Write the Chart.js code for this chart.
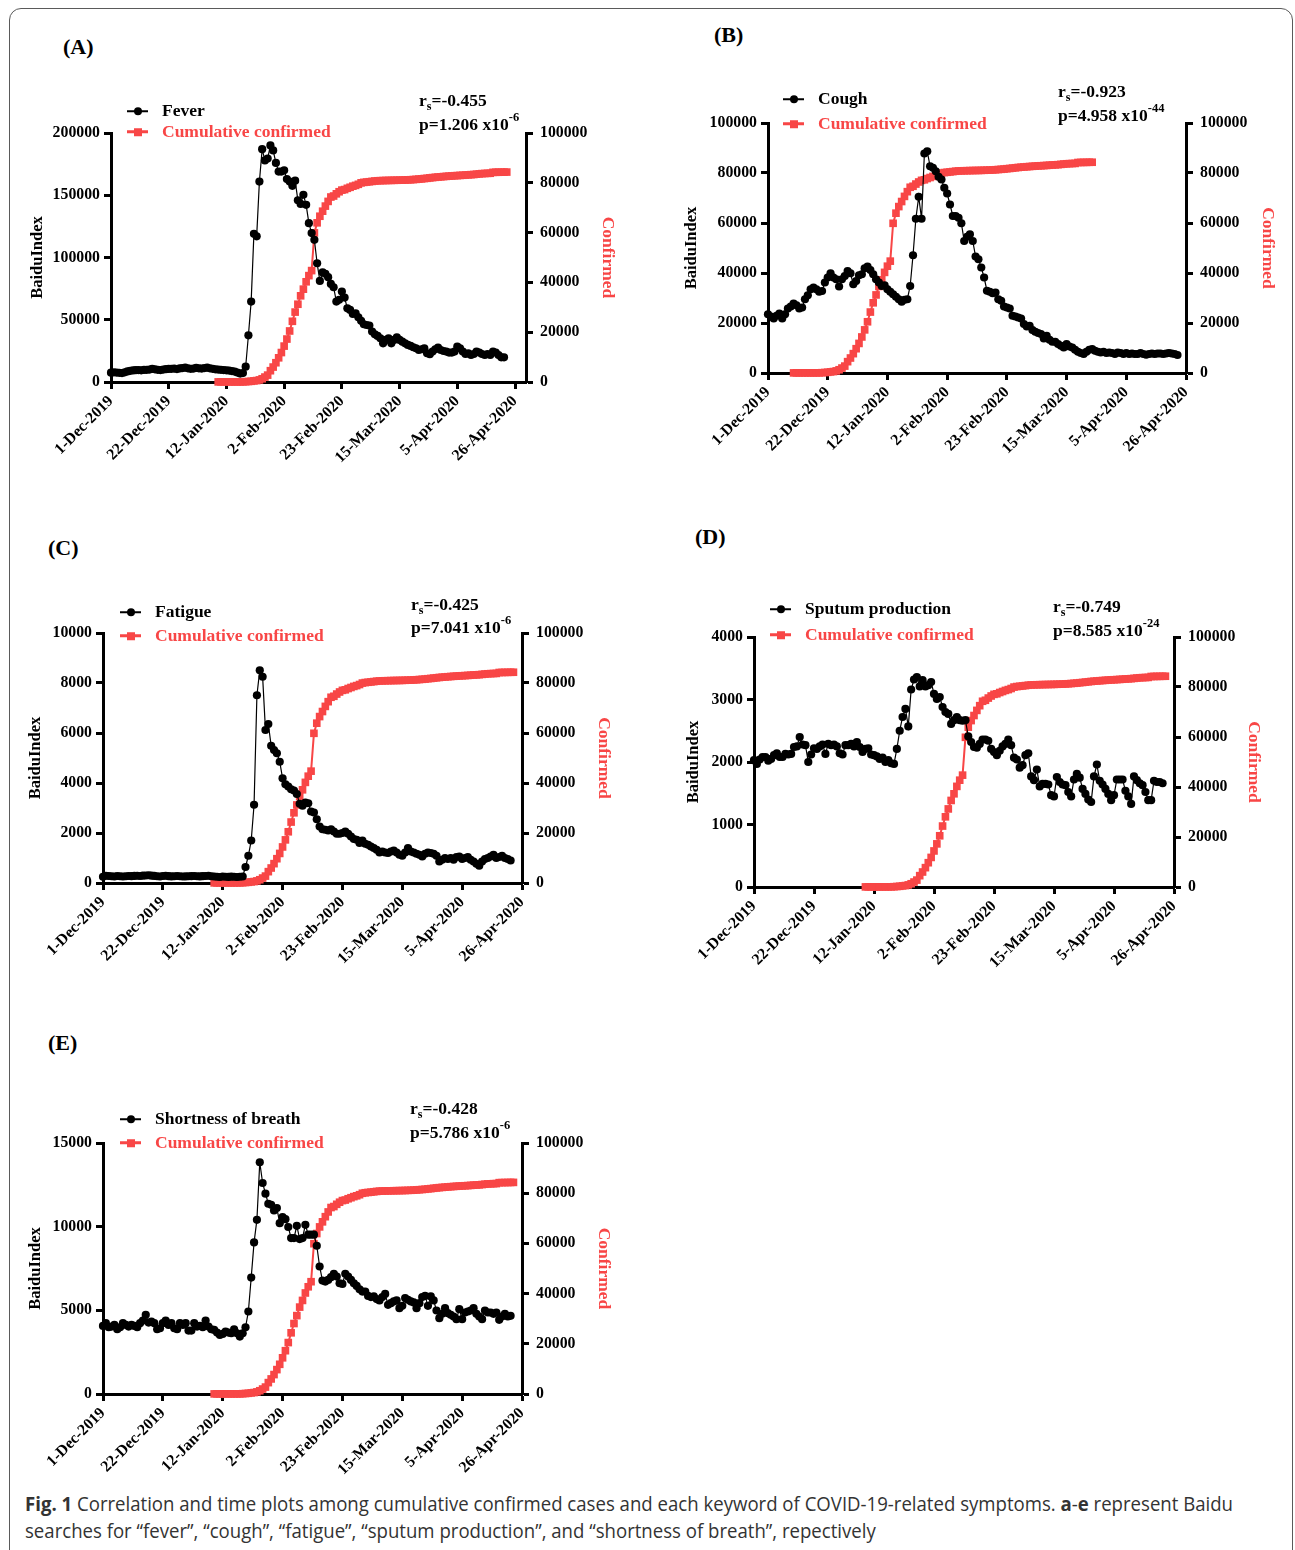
<!DOCTYPE html>
<html>
<head>
<meta charset="utf-8">
<script src="https://cdn.jsdelivr.net/npm/chart.js@4.4.1/dist/chart.umd.min.js"></script>
<style>
  html, body { margin: 0; padding: 0; background: #fff; }
  body { width: 1295px; height: 1550px; position: relative; overflow: hidden; font-family: 'Liberation Serif', 'Times New Roman', serif; }
  .frame { position: absolute; left: 9px; top: 8px; width: 1284px; height: 1570px; border: 1.5px solid #5a5a5a; border-radius: 12px; box-sizing: border-box; }
  canvas { position: absolute; }
  .tag { position: absolute; font-weight: bold; font-size: 22px; line-height: 1; transform: translateY(-50%); }
  .leg { position: absolute; font-weight: bold; font-size: 17.5px; line-height: 1; white-space: nowrap; transform: translateY(-50%); display: flex; align-items: center; }
  .mk { position: relative; width: 21px; height: 10px; margin-right: 14px; }
  .mk .ln { position: absolute; left: 0; right: 0; top: 50%; }
  .mk .pt { position: absolute; left: 50%; top: 50%; transform: translate(-50%, -50%); }
  .stat { position: absolute; font-weight: bold; font-size: 17.5px; line-height: 1; white-space: nowrap; transform: translateY(-50%); }
  .stat sub { font-size: 12px; vertical-align: -4px; line-height: 0; }
  .stat sup { font-size: 12.5px; vertical-align: 9px; line-height: 0; }
  .cap { position: absolute; left: 25px; font-family: 'Open Sans', sans-serif; font-size: 20px; color: #333; white-space: nowrap; transform-origin: 0 50%; line-height: 1; }
</style>
</head>
<body>
<div class="frame"></div>
<div class="cap" id="cap1" style="top:1494px;"><b>Fig. 1</b> Correlation and time plots among cumulative confirmed cases and each keyword of COVID-19-related symptoms. <b>a</b>-<b>e</b> represent Baidu</div>
<div class="cap" id="cap2" style="top:1521px;">searches for “fever”, “cough”, “fatigue”, “sputum production”, and “shortness of breath”, repectively</div>
<script>
// x axis: day index, 0 = 1-Dec-2019
const tickDays = [0, 21, 42, 63, 84, 105, 126, 147];
const tickLabels = ['1-Dec-2019', '22-Dec-2019', '12-Jan-2020', '2-Feb-2020', '23-Feb-2020', '15-Mar-2020', '5-Apr-2020', '26-Apr-2020'];

const panelTags = ['(A)', '(B)', '(C)', '(D)', '(E)'];
const symptomNames = ['Fever', 'Cough', 'Fatigue', 'Sputum production', 'Shortness of breath'];
const rsValues = ['-0.455', '-0.923', '-0.425', '-0.749', '-0.428'];
const pMantissa = ['1.206', '4.958', '7.041', '8.585', '5.786'];
const pExponent = ['-6', '-44', '-6', '-24', '-6'];

// left axis ranges
const leftMax = [200000, 100000, 10000, 4000, 15000];
const leftStep = [50000, 20000, 2000, 1000, 5000];
const rightMax = 100000;
const rightStep = 20000;

// BaiduIndex, daily from 1-Dec-2019
const fever = [7500, 7800, 7600, 7400, 7200, 7800, 8500, 9000, 9300, 9500,
  9600, 9400, 9700, 9800, 10000, 10500, 10200, 9800, 9600, 10000,
  10300, 10500, 10600, 10800, 10400, 10900, 11200, 11500, 11000, 10600,
  10800, 11300, 11000, 10800, 11200, 11500, 11000, 10600, 10200, 10000,
  9800, 9600, 9400, 9200, 8800, 8400, 7600, 6800, 7200,
  12300, 37500, 64600, 119000, 117000, 161000, 187000, 178000, 179500, 190000,
  186000, 176000, 169000, 169000, 170000, 163000, 161000, 157600, 161700, 146000,
  143000, 150400, 142300, 127600, 119600, 114200, 95400, 81200, 88000, 86900,
  84200, 78800, 76100, 64600, 66000, 72700, 67800, 59200, 57900, 54700,
  55200, 52000, 49100, 46400, 45800, 45300, 40500, 38300, 37000, 35100,
  31100, 33800, 35100, 31100, 33800, 35900, 33800, 32400, 31100, 29800,
  29000, 27900, 27100, 25700, 26300, 27100, 23100, 22300, 24400, 26300,
  27600, 25700, 24900, 24400, 23600, 23600, 24400, 28400, 27100, 24400,
  22500, 23100, 21700, 22500, 24400, 23600, 22500, 21700, 22500, 21700,
  24400, 23600, 21700, 19800, 19800];

const cough = [23500, 22600, 21800, 22900, 23800, 21800, 23500, 25800, 26600, 27800,
  27100, 25800, 26200, 29500, 31100, 33500, 34200, 33500, 32500, 32800,
  36200, 38200, 39900, 38200, 37500, 34600, 37500, 38800, 40800, 39900,
  35500, 36800, 39100, 39500, 41900, 42600, 41200, 39500, 37500, 36200,
  34800, 35100, 33500, 32500, 31500, 30500, 29500, 28500, 29300, 29500,
  34800, 47100, 61700, 70500, 61700, 87800, 88700, 82700, 82100, 80700,
  78500, 77400, 74100, 71800, 67400, 62800, 62800, 62100, 59900, 52800,
  54500, 55500, 52800, 46600, 45500, 42200, 38200, 32900, 32500, 31900,
  32200, 29500, 28900, 26600, 26200, 25800, 22900, 22600, 22200, 21800,
  19600, 18600, 18900, 17200, 16500, 16000, 15600, 13800, 14900, 13300,
  12500, 12500, 11600, 10900, 10200, 11600, 10600, 10200, 9300, 8500,
  8000, 7600, 8500, 9300, 9600, 8900, 8500, 8200, 8500, 8000,
  8200, 8000, 7600, 8200, 8000, 7600, 8000, 7600, 7800, 7600,
  7600, 8000, 7600, 7300, 7600, 7800, 7600, 7800, 7800, 7600,
  7800, 8000, 7800, 7600, 7200];

const fatigue = [250, 290, 280, 270, 260, 280, 270, 260, 270, 280,
  275, 285, 290, 280, 295, 300, 310, 295, 285, 270,
  260, 280, 290, 275, 265, 270, 280, 270, 260, 265,
  270, 275, 280, 270, 265, 275, 280, 290, 270, 260,
  250, 240, 260, 250, 245, 255, 250, 240, 250, 260,
  640, 1090, 1700, 3130, 7510, 8510, 8250, 6120, 6360, 5490,
  5320, 5190, 4850, 4190, 3950, 3860, 3750, 3700, 3560, 3170,
  3090, 3220, 3190, 2860, 2820, 2550, 2260, 2150, 2130, 2100,
  2150, 2060, 1970, 1970, 2000, 2060, 1970, 1860, 1760, 1730,
  1600, 1700, 1570, 1530, 1460, 1400, 1330, 1220, 1260, 1220,
  1200, 1260, 1300, 1220, 1130, 1090, 1220, 1400, 1260, 1220,
  1170, 1130, 1060, 1170, 1220, 1200, 1170, 1090, 860, 930,
  1000, 960, 1000, 930, 1040, 1060, 960, 1000, 1040, 930,
  860, 770, 690, 860, 960, 1000, 1060, 1130, 1000, 1040,
  1090, 1000, 960, 900];

const sputum = [2030, 1970, 2040, 2080, 2080, 2020, 2050, 2110, 2140, 2080,
  2080, 2130, 2120, 2130, 2240, 2250, 2400, 2280, 2270, 2000,
  2120, 2220, 2210, 2250, 2280, 2130, 2290, 2270, 2280, 2250,
  2140, 2120, 2270, 2270, 2290, 2250, 2320, 2240, 2160, 2210,
  2220, 2120, 2110, 2090, 2050, 2070, 2000, 2030, 1980, 1970,
  2210, 2500, 2720, 2850, 2570, 3160, 3320, 3360, 3210, 3310,
  3210, 3230, 3280, 3090, 3010, 3040, 2880, 2800, 2770, 2610,
  2670, 2720, 2670, 2660, 2670, 2410, 2320, 2240, 2230, 2290,
  2360, 2360, 2340, 2210, 2160, 2110, 2180, 2250, 2290, 2360,
  2270, 2070, 2040, 1910, 1950, 2110, 2140, 1770, 1710, 1880,
  1610, 1650, 1650, 1640, 1470, 1450, 1760, 1680, 1640, 1630,
  1520, 1450, 1720, 1810, 1750, 1570, 1490, 1400, 1360, 1770,
  1960, 1700, 1640, 1570, 1490, 1390, 1470, 1720, 1720, 1720,
  1540, 1450, 1330, 1770, 1710, 1660, 1630, 1520, 1390, 1390,
  1700, 1680, 1680, 1660];

const breath = [4070, 4230, 3990, 4030, 4130, 3870, 3990, 4230, 4130, 4030,
  4130, 4070, 3990, 4230, 4390, 4730, 4270, 4330, 4230, 3870,
  3930, 4230, 4390, 4130, 4230, 3930, 3870, 4230, 4130, 4230,
  3790, 3790, 4230, 4030, 4070, 3990, 4390, 4030, 3870, 3830,
  3670, 3530, 3590, 3730, 3670, 3630, 3870, 3630, 3430, 3630,
  3990, 4930, 6960, 9060, 10410, 13850, 12610, 11970, 11370, 11310,
  10970, 11110, 10210, 10570, 10450, 9980, 9320, 9320, 10050, 9260,
  9320, 10110, 9520, 9520, 9520, 8860, 7620, 6780, 6720, 6820,
  6980, 7180, 7020, 6620, 6580, 7180, 7020, 6820, 6620, 6460,
  6260, 6120, 6120, 5860, 5790, 5830, 5670, 5590, 5790, 5980,
  5330, 5430, 5530, 5590, 5130, 5270, 5730, 5630, 5530, 5470,
  5130, 5430, 5790, 5860, 5270, 5830, 5590, 4990, 4530, 4790,
  5130, 4830, 4730, 4630, 4470, 5070, 4470, 4870, 4930, 4990,
  5130, 4790, 4630, 4470, 4990, 4870, 4870, 4790, 4870, 4430,
  4630, 4790, 4630, 4670];

// cumulative confirmed cases, daily
const cumulative = [41, 41, 41, 41, 41, 41, 41, 41, 45, 62,
  121, 198, 291, 441, 574, 835, 1297, 1985, 2761, 4537,
  6000, 7740, 9720, 11830, 14420, 17250, 20490, 24380, 28080, 31230,
  34620, 37280, 40250, 42720, 44740, 59880, 63930, 66570, 68590, 70640,
  72530, 74290, 74686, 75580, 76408, 77061, 77278, 77790, 78199, 78635,
  78964, 79396, 79974, 80176, 80303, 80425, 80566, 80710, 80811, 80857,
  80900, 80924, 80958, 80978, 81008, 81024, 81054, 81090, 81131, 81164,
  81228, 81297, 81388, 81484, 81573, 81711, 81818, 81965, 82090, 82214,
  82319, 82410, 82508, 82594, 82679, 82760, 82839, 82899, 82968, 83030,
  83112, 83205, 83267, 83333, 83452, 83580, 83689, 83745, 83801, 83837,
  84199, 84225, 84242, 84258, 84293, 84308];
// day index of the first cumulative point in each panel (panel B is plotted 30 days earlier)
const cumStartDay = [39, 9, 39, 39, 39];
const symptomSeries = [fever, cough, fatigue, sputum, breath];

const RED = '#f84646';
const FONT = "'Liberation Serif', 'Times New Roman', serif";

// layout of the five panels (plot area in page pixels)
const layout = [
  { l: 111, t: 133, r: 526, b: 382, xMax: 151, wl: 87, wr: 96, tag: [63, 47], legX: 127, legY: [111, 132], statX: 419, statY: [101, 125] },
  { l: 768, t: 123, r: 1186, b: 373, xMax: 147, wl: 90, wr: 96, tag: [714, 35], legX: 783, legY: [99, 124], statX: 1058, statY: [92, 116] },
  { l: 103, t: 633, r: 522, b: 883, xMax: 147, wl: 81, wr: 96, tag: [48, 548], legX: 120, legY: [612, 636], statX: 411, statY: [605, 628] },
  { l: 754, t: 637, r: 1174, b: 887, xMax: 147, wl: 74, wr: 94, tag: [695, 537], legX: 770, legY: [609, 635], statX: 1053, statY: [607, 631] },
  { l: 103, t: 1143, r: 522, b: 1394, xMax: 147, wl: 81, wr: 96, tag: [48, 1043], legX: 120, legY: [1119, 1143], statX: 410, statY: [1109, 1133] },
];

function addDiv(cls, html, x, y) {
  const d = document.createElement('div');
  d.className = cls;
  d.innerHTML = html;
  d.style.left = x + 'px';
  d.style.top = y + 'px';
  document.body.appendChild(d);
  return d;
}

function legendMarker(color, square) {
  const lw = square ? 3 : 1.5;
  const pt = square
    ? `<span class="pt" style="width:8px;height:8px;background:${color}"></span>`
    : `<span class="pt" style="width:8px;height:8px;border-radius:50%;background:${color}"></span>`;
  return `<span class="mk"><span class="ln" style="height:${lw}px;margin-top:-${lw / 2}px;background:${color}"></span>${pt}</span>`;
}

const tickFont = { family: FONT, weight: 'bold', size: 15.8 };

layout.forEach((p, k) => {
  const padTop = 20, hx = 110;
  const W = p.wl + (p.r - p.l) + p.wr;
  const H = padTop + (p.b - p.t) + hx;
  const cv = document.createElement('canvas');
  cv.width = W;
  cv.height = H;
  cv.style.left = (p.l - p.wl) + 'px';
  cv.style.top = (p.t - padTop) + 'px';
  document.body.appendChild(cv);

  const sym = symptomSeries[k].map((v, i) => ({ x: i, y: v }));
  const cum = cumulative.map((v, i) => ({ x: cumStartDay[k] + i, y: v }));

  const tickGrid = { drawOnChartArea: false, drawTicks: true, tickLength: 7, tickWidth: 3, tickColor: '#000' };
  const border = { display: true, width: 3, color: '#000' };

  new Chart(cv, {
    type: 'line',
    data: {
      datasets: [
        {
          label: symptomNames[k], data: sym, yAxisID: 'y',
          borderColor: '#000', borderWidth: 1.2, tension: 0,
          pointStyle: 'circle', pointRadius: 4.1, pointBackgroundColor: '#000', pointBorderWidth: 0,
          clip: false,
        },
        {
          label: 'Cumulative confirmed', data: cum, yAxisID: 'y1',
          borderColor: RED, borderWidth: 2, tension: 0,
          pointStyle: 'rect', pointRadius: 5.4, pointBackgroundColor: RED, pointBorderWidth: 0,
          clip: false,
        },
      ],
    },
    options: {
      responsive: false,
      animation: false,
      devicePixelRatio: 1,
      layout: { padding: { top: padTop, left: 0, right: 0, bottom: 0 } },
      plugins: { legend: { display: false }, tooltip: { enabled: false } },
      scales: {
        x: {
          type: 'linear', min: 0, max: p.xMax,
          afterBuildTicks: (s) => { s.ticks = tickDays.map((v) => ({ value: v })); },
          afterFit: (s) => { s.height = hx; },
          ticks: {
            autoSkip: false, minRotation: 45, maxRotation: 45, padding: 3, color: '#000', font: tickFont,
            callback: (v) => tickLabels[tickDays.indexOf(v)],
          },
          grid: tickGrid, border,
        },
        y: {
          position: 'left', min: 0, max: leftMax[k],
          afterFit: (s) => { s.width = p.wl; },
          ticks: { stepSize: leftStep[k], padding: 4, color: '#000', font: tickFont, callback: (v) => String(v) },
          grid: tickGrid, border,
          title: { display: true, text: 'BaiduIndex', color: '#000', font: { family: FONT, weight: 'bold', size: 16.5 }, padding: { top: 4, bottom: 4 } },
        },
        y1: {
          position: 'right', min: 0, max: rightMax,
          afterFit: (s) => { s.width = p.wr; },
          ticks: { stepSize: rightStep, padding: 7, color: '#000', font: tickFont, callback: (v) => String(v) },
          grid: tickGrid, border,
          title: { display: true, text: 'Confirmed', color: RED, font: { family: FONT, weight: 'bold', size: 17.5 }, padding: { top: 4, bottom: 4 } },
        },
      },
    },
  });

  addDiv('tag', panelTags[k], p.tag[0], p.tag[1]);
  addDiv('leg', legendMarker('#000', false) + `<span>${symptomNames[k]}</span>`, p.legX, p.legY[0]);
  addDiv('leg', legendMarker(RED, true) + `<span style="color:${RED}">Cumulative confirmed</span>`, p.legX, p.legY[1]);
  addDiv('stat', `r<sub>s</sub>=${rsValues[k]}`, p.statX, p.statY[0]);
  addDiv('stat', `p=${pMantissa[k]} x10<sup>${pExponent[k]}</sup>`, p.statX, p.statY[1]);
});

// fit the caption lines to the reference line width
const c1 = document.getElementById('cap1');
const c2 = document.getElementById('cap2');
const sx = 1208 / c1.getBoundingClientRect().width;
c1.style.transform = `scaleX(${sx})`;
c2.style.transform = `scaleX(${sx})`;
</script>
</body>
</html>
